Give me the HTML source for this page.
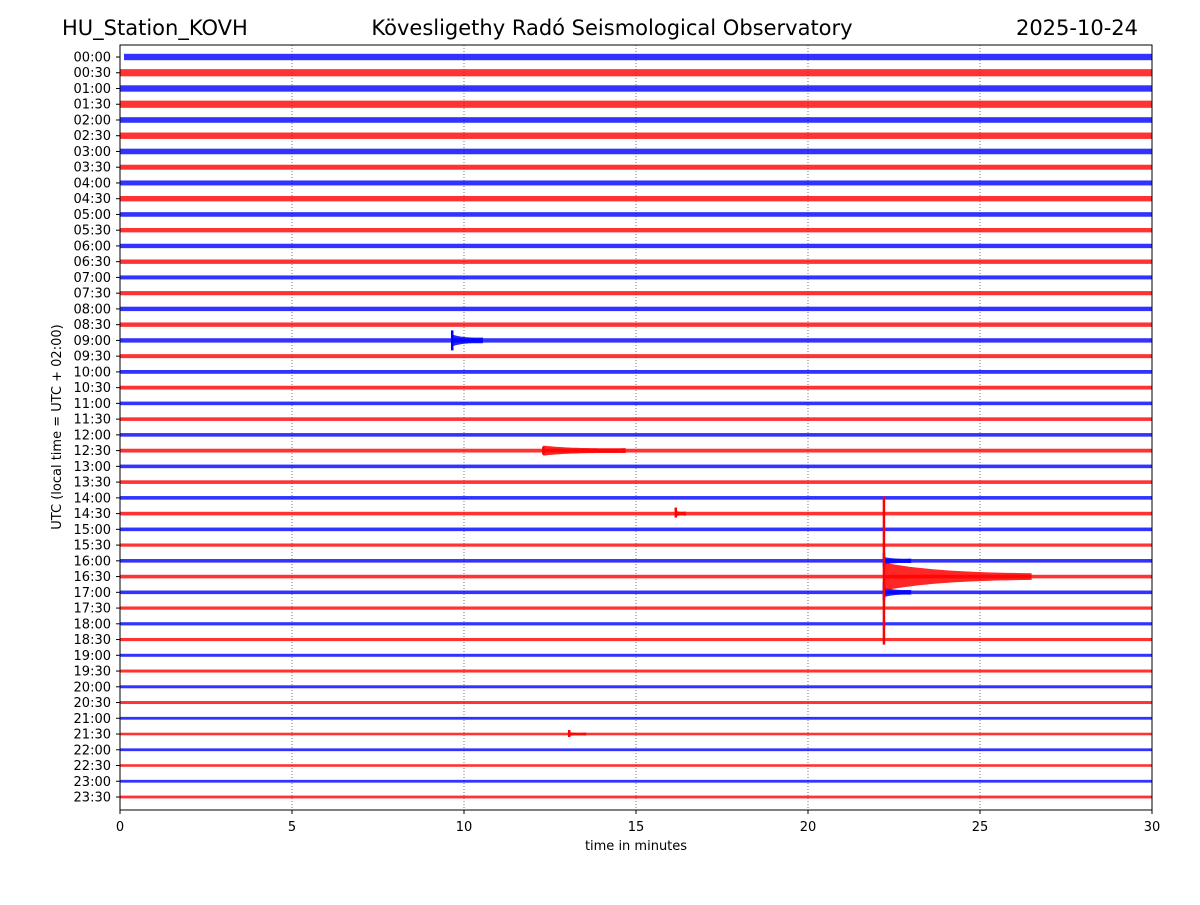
<!DOCTYPE html>
<html><head><meta charset="utf-8"><style>
body{margin:0;background:#fff;}
svg text{font-family:"DejaVu Sans","Liberation Sans",sans-serif;}
</style></head><body>
<svg id="chart" width="1200" height="900" viewBox="0 0 1200 900" xmlns="http://www.w3.org/2000/svg">
<rect x="0" y="0" width="1200" height="900" fill="#fff"/>
<text x="62" y="35" font-size="21">HU_Station_KOVH</text>
<text x="612" y="35" font-size="21" text-anchor="middle">Kövesligethy Radó Seismological Observatory</text>
<text x="1138" y="35" font-size="21" text-anchor="end">2025-10-24</text>
<g id="grid"></g>
<g id="traces"></g>
<g id="events"></g>
<rect x="120" y="45" width="1032" height="765" fill="none" stroke="#000" stroke-width="1"/>
<g id="yticks"></g>
<g id="xticks"></g>
<text x="636" y="850" font-size="13" text-anchor="middle">time in minutes</text>
<text x="0" y="0" font-size="13" text-anchor="middle" transform="translate(61,427) rotate(-90)">UTC (local time = UTC + 02:00)</text>
</svg>
<script>
// per-row noise half-amplitude (px), 48 rows 00:00..23:30
const rowAmps = [3.2,3.6,3.2,3.6,2.8,3.2,2.8,2.5,2.5,2.7,2.3,2.2,2.2,2.2,2,2.1,2.2,2.2,2.2,2,1.9,1.9,1.8,1.8,1.8,1.9,1.8,1.8,1.8,1.8,1.8,1.6,1.8,1.8,1.8,1.6,1.6,1.6,1.5,1.5,1.5,1.5,1.4,1.3,1.4,1.3,1.4,1.4];
// events: row index, start minute, peak up px, peak down px, coda amp px, duration minutes
const evRow   = [18,   25,   29,   32,   34,   43,   33];
const evStart = [9.65, 12.3, 16.15,22.2, 22.2, 13.05,22.2];
const evUp    = [10,   4,    6,    8,    10,   4,    80];
const evDown  = [10,   4,    4,    6,    8,    3,    68];
const evCoda  = [6,    5,    3,    4,    5,    2,    14];
const evDur   = [0.9,  2.4,  0.3,  0.8,  0.8,  0.5,  4.3];
const xTicks = [0,5,10,15,20,25,30];
const NS='http://www.w3.org/2000/svg';
const X0=120,X1=1152,Y0=57,DY=(797-57)/47;
const xs=m=>X0+(m/30)*(X1-X0);
const ys=r=>Y0+r*DY;
const col=r=>r%2===0?'#0000ff':'#ff0000';
function mk(tag,attrs,parent){const e=document.createElementNS(NS,tag);for(const k in attrs)e.setAttribute(k,attrs[k]);parent.appendChild(e);return e;}
const grid=document.getElementById('grid');
xTicks.slice(1,-1).forEach(t=>{
  const l=mk('line',{x1:xs(t),x2:xs(t),y1:45,y2:810,stroke:'#555','stroke-width':0.8,'stroke-dasharray':'1,2'},grid);
  
  
});
const tr=document.getElementById('traces');
const yt=document.getElementById('yticks');
rowAmps.forEach((a,r)=>{
  const y=ys(r);
  const rc=mk('rect',{x:X0+(r===0?4:0),y:y-a,width:X1-X0-(r===0?4:0),height:2*a,fill:col(r),opacity:0.8},tr);
  
  
  const h=Math.floor(r/2),mm=r%2?'30':'00';
  const lab=String(h).padStart(2,'0')+':'+mm;
  const t=mk('text',{x:111,y:y+4.5,'font-size':13,'text-anchor':'end'},yt);t.textContent=lab;
  
  
  mk('line',{x1:116,x2:120,y1:y,y2:y,stroke:'#000'},yt);
});
const xt=document.getElementById('xticks');
xTicks.forEach(t=>{
  mk('line',{x1:xs(t),x2:xs(t),y1:810,y2:814,stroke:'#000'},xt);
  const tx=mk('text',{x:xs(t),y:831,'font-size':13,'text-anchor':'middle'},xt);tx.textContent=t;
  
  
});
const ev=document.getElementById('events');
evRow.forEach((r,i)=>{
  const y=ys(r),s=evStart[i],d=evDur[i],c=col(r);
  const sp=mk('rect',{x:xs(s)-1,y:y-evUp[i],width:2.5,height:evUp[i]+evDown[i],fill:c},ev);
  
  
  const n=30;let top=[],bot=[];
  for(let k=0;k<=n;k++){const f=k/n;const m=s+f*d;const a=evCoda[i]*Math.exp(-2.2*f)+rowAmps[r]*f;top.push(xs(m)+','+(y-a));bot.unshift(xs(m)+','+(y+a));}
  const p=mk('polygon',{points:top.concat(bot).join(' '),fill:c,opacity:0.85},ev);
  
  
});
</script>
</body></html>
